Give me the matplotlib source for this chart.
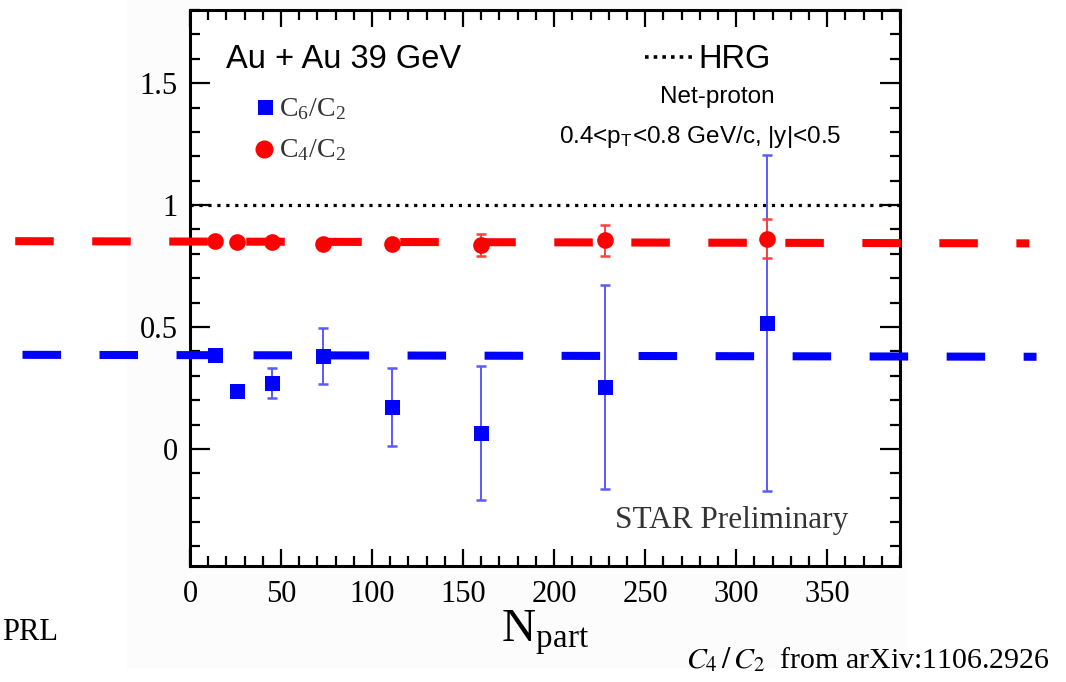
import numpy as np
import matplotlib
matplotlib.use("Agg")
import matplotlib.pyplot as plt
from matplotlib.ticker import MultipleLocator
from matplotlib.patches import Rectangle

plt.rcParams['mathtext.fontset'] = 'stix'

# Net-proton cumulant ratios, Au+Au 39 GeV
npart = [14, 26, 45, 73, 111, 160, 228, 317]
c6c2 = [0.387, 0.236, 0.270, 0.383, 0.172, 0.066, 0.254, 0.516]
c6c2_err = [0.015, 0.015, 0.06, 0.115, 0.16, 0.276, 0.42, 0.69]
c4c2 = [0.851, 0.847, 0.848, 0.840, 0.840, 0.837, 0.855, 0.862]
c4c2_err = [0.01, 0.01, 0.012, 0.012, 0.015, 0.045, 0.062, 0.08]

# hand drawn dashed levels (extend past the frame)
c4_level_x = [-96, 461]
c4_level_y = [0.852, 0.843]
c6_level_x = [-92, 465]
c6_level_y = [0.386, 0.378]
hrg = 1.0

xticks = [0, 50, 100, 150, 200, 250, 300, 350]
yticks = [0, 0.5, 1, 1.5]
yticklabels = ['0', '0.5', '1', '1.5']

serif = 'Liberation Serif'
sans = 'Liberation Sans'

fig = plt.figure(figsize=(10.66, 6.82), dpi=100)
fig.patches.append(Rectangle((0.119, 0.022), 0.73, 0.978, transform=fig.transFigure,
                             color='#fcfcfc', zorder=-5))
ax = fig.add_axes([190/1066, 1-566/682, 710/1066, 556/682])

ax.set_xlim(0, 390)
ax.set_ylim(-0.48, 1.8)

# HRG baseline
ax.axhline(hrg, color='black', lw=2.3, dashes=(1, 1.8), zorder=2)

# data: error bars first, markers on top
ax.errorbar(npart, c6c2, yerr=c6c2_err, fmt='none', ecolor='#5a5aff',
            elinewidth=1.4, capsize=3.5, capthick=1.8, zorder=4)
ax.errorbar(npart, c4c2, yerr=c4c2_err, fmt='none', ecolor='#ff4040',
            elinewidth=1.4, capsize=3.5, capthick=1.8, zorder=4)
ax.plot(npart, c6c2, 's', color='#0000ff', ms=10.8, mew=0, zorder=5)
ax.plot(npart, c4c2, 'o', color='#ff0000', ms=12, mew=0, zorder=5)

ax.plot(c4_level_x, c4_level_y, color='#ff0000', lw=5.8, dashes=(4.78, 4.78),
        clip_on=False, zorder=3)
ax.plot(c6_level_x, c6_level_y, color='#0000ff', lw=5.8, dashes=(4.78, 4.78),
        clip_on=False, zorder=3)

# axes styling
for s in ax.spines.values():
    s.set_linewidth(2.2)
ax.set_xticks(xticks)
ax.set_yticks(yticks)
ax.set_yticklabels(yticklabels)
ax.xaxis.set_minor_locator(MultipleLocator(10))
ax.yaxis.set_minor_locator(MultipleLocator(0.1))
ax.tick_params(which='both', direction='in', top=True, right=True, width=1.6)
ax.tick_params(axis='y', which='major', length=14.4, pad=9)
ax.tick_params(axis='x', which='major', length=12, pad=10)
ax.tick_params(which='minor', length=7)
for lab in ax.get_xticklabels() + ax.get_yticklabels():
    lab.set_fontfamily(serif)
    lab.set_fontsize(22)

ax.set_xlabel(r'N$_{\mathregular{part}}$', fontsize=34, family=serif, va='baseline')
ax.xaxis.set_label_coords(0.5, (566-642)/556)

# in-plot annotations
ax.text(0.051, 0.895, 'Au + Au 39 GeV', transform=ax.transAxes, family=sans, fontsize=23.5)
ax.plot([0.641, 0.708], [0.9146, 0.9146], transform=ax.transAxes, color='black',
        lw=2.6, dashes=(1, 1.4))
ax.text(0.716, 0.895, 'HRG', transform=ax.transAxes, family=sans, fontsize=23.5)
ax.text(0.742, 0.832, 'Net-proton', transform=ax.transAxes, family=sans, fontsize=17.5,
        ha='center')
ax.text(0.918, 0.761, r'0.4<p$_\mathregular{T}$<0.8 GeV/c, |y|<0.5', transform=ax.transAxes,
        family=sans, fontsize=17.5, ha='right')

ax.plot([0.105], [0.8255], 's', color='#0000ff', ms=10.8, mew=0, transform=ax.transAxes)
ax.text(0.126, 0.809, r'C$_\mathregular{6}$/C$_\mathregular{2}$', transform=ax.transAxes,
        family=serif, fontsize=20, color='#333333')
ax.plot([0.104], [0.75], 'o', color='#ff0000', ms=13, mew=0, transform=ax.transAxes)
ax.text(0.126, 0.734, r'C$_\mathregular{4}$/C$_\mathregular{2}$', transform=ax.transAxes,
        family=serif, fontsize=20, color='#333333')

ax.text(0.599, 0.068, 'STAR Preliminary', transform=ax.transAxes, family=serif,
        fontsize=22.5, color='#333333')

fig.text(0.002, 0.062, 'PRL', family=serif, fontsize=22)
fig.text(0.985, 0.0205, r'$C_4\,/\,C_2$  from arXiv:1106.2926', family=serif,
         fontsize=21.5, ha='right')

fig.savefig('out.png', dpi=100)
